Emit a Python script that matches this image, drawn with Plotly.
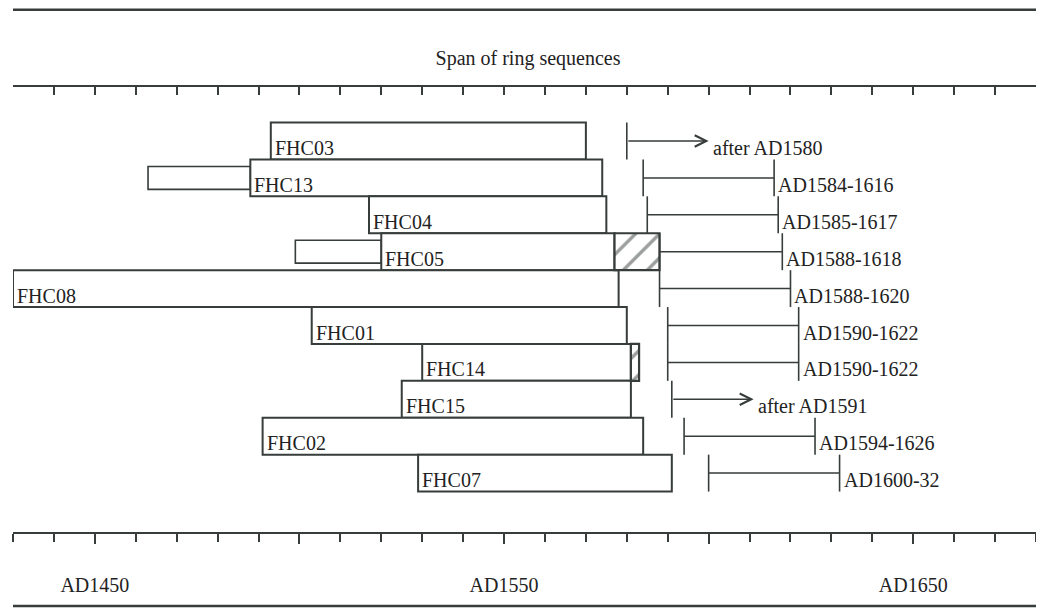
import plotly.graph_objects as go

# ---------------- data ----------------
samples = ["FHC03", "FHC13", "FHC04", "FHC05", "FHC08",
           "FHC01", "FHC14", "FHC15", "FHC02", "FHC07"]
seq_start = [1493, 1488, 1517, 1520, 1430, 1503, 1530, 1525, 1491, 1529]
seq_end = [1570, 1574, 1575, 1577, 1578, 1580, 1581, 1581, 1584, 1591]

ext_samples = ["FHC13", "FHC05"]
ext_start = [1463, 1499]
ext_end = [1488, 1520]

sap_samples = ["FHC05", "FHC14"]
sap_start = [1577, 1581]
sap_end = [1588, 1583]

fell_start = [1580, 1584, 1585, 1588, 1588, 1590, 1590, 1591, 1594, 1600]
fell_end = [None, 1616, 1617, 1618, 1620, 1622, 1622, None, 1626, 1632]
fell_labels = ["after AD1580", "AD1584-1616", "AD1585-1617", "AD1588-1618",
               "AD1588-1620", "AD1590-1622", "AD1590-1622", "after AD1591",
               "AD1594-1626", "AD1600-32"]

tick_vals = [1450, 1500, 1550, 1600, 1650]
tick_text = ["AD1450", "", "AD1550", "", "AD1650"]
title_text = "Span of ring sequences"

# ---------------- style ----------------
INK = "#363d3b"
TXT = "#222222"
FONT = "Liberation Serif"
ARROW_LEN = 20
X_RANGE = [1430, 1680]
W, H = 1036, 600   # page body adds an 8px margin

rows = list(range(len(samples)))
row_of = {s: i for i, s in enumerate(samples)}

fig = go.Figure()

# extension boxes
fig.add_trace(go.Bar(
    orientation="h",
    y=[row_of[s] for s in ext_samples],
    base=ext_start,
    x=[e - s for s, e in zip(ext_start, ext_end)],
    width=0.62,
    marker=dict(color="white", line=dict(color=INK, width=1.6)),
    hoverinfo="skip",
))

# main ring sequences
fig.add_trace(go.Bar(
    orientation="h",
    y=rows,
    base=seq_start,
    x=[e - s for s, e in zip(seq_start, seq_end)],
    width=1,
    marker=dict(color="white", line=dict(color=INK, width=2)),
    hoverinfo="skip",
))

# hatched parts
fig.add_trace(go.Bar(
    orientation="h",
    y=[row_of[s] for s in sap_samples],
    base=sap_start,
    x=[e - s for s, e in zip(sap_start, sap_end)],
    width=1,
    marker=dict(color="white",
                pattern=dict(shape="/", fgcolor=INK, bgcolor="white",
                             size=17, solidity=0.2),
                line=dict(color=INK, width=2.2)),
    hoverinfo="skip",
))

# felling-date ranges
hx, hy = [], []
vx, vy = [], []
for r, s, e in zip(rows, fell_start, fell_end):
    vx += [s, s, None]
    vy += [r - 0.5, r + 0.5, None]
    if e is not None:
        hx += [s, e, None]
        hy += [r, r, None]
        vx += [e, e, None]
        vy += [r - 0.5, r + 0.5, None]

fig.add_trace(go.Scatter(x=hx, y=hy, mode="lines",
                         line=dict(color=INK, width=1.5), hoverinfo="skip"))
fig.add_trace(go.Scatter(x=vx, y=vy, mode="lines",
                         line=dict(color=INK, width=1.6), hoverinfo="skip"))

annotations = []
for r, s, e in zip(rows, fell_start, fell_end):
    if e is None:
        annotations.append(dict(
            x=s + ARROW_LEN, y=r, ax=s, ay=r, axref="x", ayref="y",
            xref="x", yref="y", text="", showarrow=True,
            arrowhead=5, arrowsize=1.5, arrowwidth=1.5, arrowcolor=INK,
            standoff=0, startstandoff=0,
        ))

for r, s, e, lab in zip(rows, fell_start, fell_end, fell_labels):
    xpos = e if e is not None else s + ARROW_LEN
    annotations.append(dict(
        x=xpos, y=r, xref="x", yref="y", text=lab, showarrow=False,
        xanchor="left", yanchor="middle", xshift=2, yshift=-7,
        font=dict(family=FONT, size=20, color=TXT),
    ))

for r, s, name in zip(rows, seq_start, samples):
    annotations.append(dict(
        x=s, y=r, xref="x", yref="y", text=name, showarrow=False,
        xanchor="left", yanchor="middle", xshift=2, yshift=-7,
        font=dict(family=FONT, size=20, color=TXT),
    ))

shapes = [
    dict(type="line", xref="paper", yref="paper", x0=0, x1=1.006,
         y0=1.1737, y1=1.1737, line=dict(color=INK, width=2.5)),
    dict(type="line", xref="paper", yref="paper", x0=0, x1=1.006,
         y0=-0.1663, y1=-0.1663, line=dict(color=INK, width=2.5)),
]

fig.update_layout(
    width=W, height=H,
    margin=dict(l=5.3, r=8.3, t=79, b=76, autoexpand=False),
    paper_bgcolor="white", plot_bgcolor="white",
    barmode="overlay",
    showlegend=False,
    title=dict(text=title_text, x=520 / W, xanchor="center",
               y=1 - 50 / H, yanchor="middle",
               font=dict(family=FONT, size=20, color=TXT)),
    annotations=annotations,
    shapes=shapes,
    xaxis=dict(
        range=X_RANGE, showgrid=False, zeroline=False,
        showline=True, linecolor=INK, linewidth=2,
        tickmode="array", tickvals=tick_vals, ticktext=tick_text,
        ticks="outside", ticklen=10, tickwidth=1.5, tickcolor=INK,
        minor=dict(tickmode="linear", tick0=1430, dtick=10, ticks="outside",
                   ticklen=8, tickwidth=1.5, tickcolor=INK),
        tickfont=dict(family=FONT, size=20, color=TXT),
        ticklabelstandoff=24,
        automargin=False, fixedrange=True,
    ),
    xaxis2=dict(
        overlaying="x", side="top", matches="x",
        range=X_RANGE, showgrid=False, zeroline=False,
        showline=True, linecolor=INK, linewidth=2,
        tickmode="array", tickvals=tick_vals, ticktext=["" for _ in tick_vals],
        ticks="inside", ticklen=10, tickwidth=1.5, tickcolor=INK,
        minor=dict(tickmode="linear", tick0=1430, dtick=10, ticks="inside",
                   ticklen=8, tickwidth=1.5, tickcolor=INK),
        showticklabels=False, automargin=False,
    ),
    yaxis=dict(range=[10.596, -1.463], visible=False, fixedrange=True),
)

fig.add_trace(go.Scatter(x=X_RANGE, y=[None, None], xaxis="x2",
                         mode="lines", hoverinfo="skip", showlegend=False))

fig.write_html("out.html")
